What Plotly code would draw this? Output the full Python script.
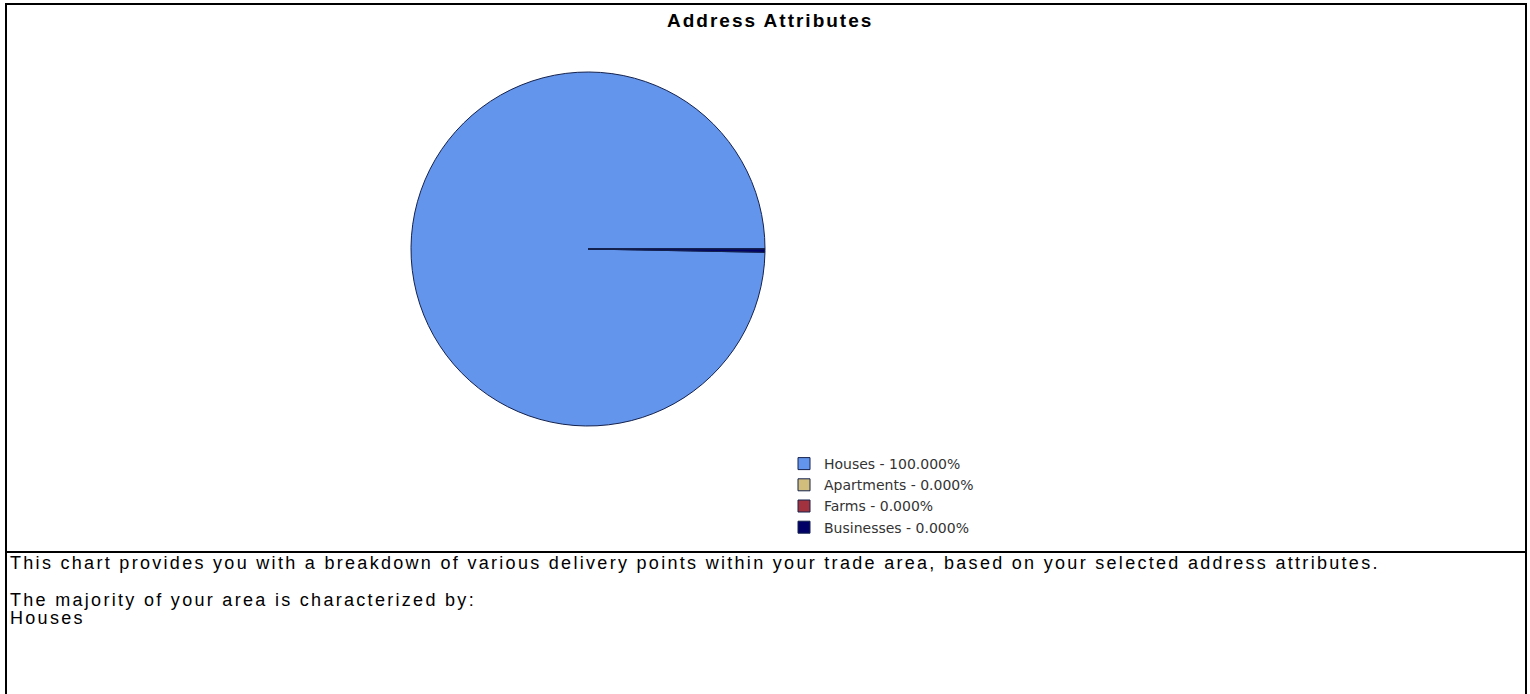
import plotly.graph_objects as go

# ---- data ----
categories = ["Houses", "Apartments", "Farms", "Businesses"]
legend_labels = ["Houses - 100.000%", "Apartments - 0.000%", "Farms - 0.000%", "Businesses - 0.000%"]
values = [100.0, 0.0, 0.0, 0.3]   # Businesses drawn as the visible hairline sliver
colors = ["#6495ED", "#D2BE7C", "#A3323F", "#000066"]

title_text = "Address Attributes"
body_lines = [
    "This chart provides you with a breakdown of various delivery points within your trade area, based on your selected address attributes.",
    "The majority of your area is characterized by:",
    "Houses",
]

W, H = 1530, 694

def px_x(x):
    return x / W

def px_y(y):
    return 1 - y / H

def spaced(txt, ls):
    return '<span style="letter-spacing:%.2fpx">%s</span>' % (ls, txt)

fig = go.Figure()

cx, cy, r = 588, 249, 177
sliver_deg = values[-1] / sum(values) * 360
fig.add_trace(go.Pie(
    labels=legend_labels,
    values=values,
    sort=False,
    direction="clockwise",
    rotation=90 + sliver_deg,
    textinfo="none",
    hoverinfo="label",
    marker=dict(colors=colors, line=dict(color="#14224d", width=1)),
    domain=dict(x=[px_x(cx - r), px_x(cx + r)], y=[px_y(cy + r), px_y(cy - r)]),
    showlegend=True,
))

shapes = []
line_style = dict(color="black", width=2)
shapes.append(dict(type="line", xref="paper", yref="paper", x0=px_x(5), x1=px_x(1527), y0=px_y(4), y1=px_y(4), line=line_style))
shapes.append(dict(type="line", xref="paper", yref="paper", x0=px_x(6), x1=px_x(6), y0=px_y(3), y1=px_y(700), line=line_style))
shapes.append(dict(type="line", xref="paper", yref="paper", x0=px_x(1526), x1=px_x(1526), y0=px_y(3), y1=px_y(700), line=line_style))
shapes.append(dict(type="line", xref="paper", yref="paper", x0=px_x(5), x1=px_x(1527), y0=px_y(552), y1=px_y(552), line=line_style))

annotations = [
    dict(text="<b>" + spaced(title_text, 2.0) + "</b>", xref="paper", yref="paper", x=px_x(770), y=px_y(21),
         xanchor="center", yanchor="middle", showarrow=False,
         font=dict(family="Liberation Sans, Arial", size=19, color="black")),
]
body_y = [563, 600, 618]
for txt, yy in zip(body_lines, body_y):
    annotations.append(dict(text=spaced(txt, 2.3), xref="paper", yref="paper", x=px_x(8), y=px_y(yy),
                            xanchor="left", yanchor="middle", showarrow=False,
                            font=dict(family="Liberation Sans, Arial", size=18, color="black")))

fig.update_layout(
    width=W, height=H, autosize=False,
    margin=dict(l=0, r=0, t=0, b=0),
    paper_bgcolor="white", plot_bgcolor="white",
    shapes=shapes,
    annotations=annotations,
    legend=dict(x=px_x(784), y=px_y(448), xanchor="left", yanchor="top",
                font=dict(family="DejaVu Sans", size=14, color="#333333"),
                traceorder="normal", itemclick=False, itemdoubleclick=False,
                bgcolor="rgba(0,0,0,0)"),
)

fig.write_html("out.html")
